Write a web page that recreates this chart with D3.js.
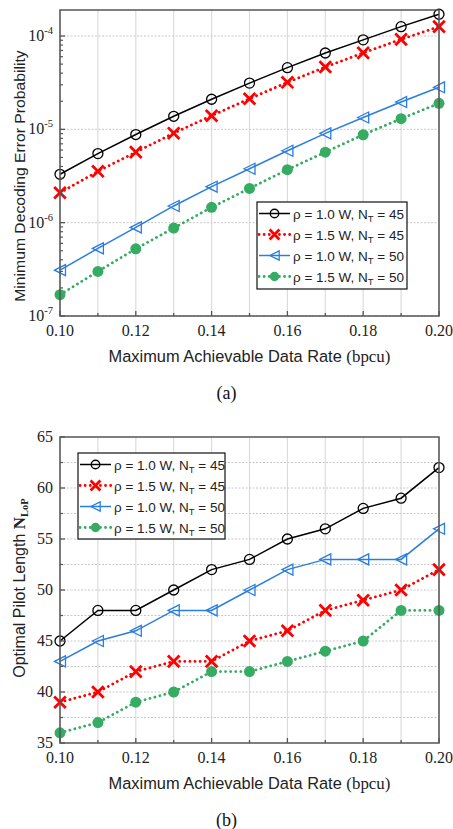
<!DOCTYPE html>
<html><head><meta charset="utf-8">
<script src="https://cdn.jsdelivr.net/npm/d3@7"></script>
<style>body{margin:0;background:#fff}svg{display:block}</style>
</head><body>
<svg id="c" width="453" height="829"></svg>
<script>
const rates = [0.10,0.11,0.12,0.13,0.14,0.15,0.16,0.17,0.18,0.19,0.20];
const xTicks = [0.10,0.12,0.14,0.16,0.18,0.20];
const seriesNames = ["ρ = 1.0 W, N_T = 45","ρ = 1.5 W, N_T = 45","ρ = 1.0 W, N_T = 50","ρ = 1.5 W, N_T = 50"];
// (a) minimum decoding error probability
const errA_r10_n45 = [3.3e-6,5.5e-6,8.8e-6,1.38e-5,2.1e-5,3.13e-5,4.58e-5,6.58e-5,9.1e-5,1.26e-4,1.71e-4];
const errA_r15_n45 = [2.09e-6,3.55e-6,5.7e-6,9.1e-6,1.4e-5,2.13e-5,3.19e-5,4.65e-5,6.6e-5,9.2e-5,1.26e-4];
const errA_r10_n50 = [3.1e-7,5.3e-7,8.9e-7,1.51e-6,2.43e-6,3.78e-6,5.9e-6,9.06e-6,1.34e-5,1.96e-5,2.82e-5];
const errA_r15_n50 = [1.69e-7,3.0e-7,5.25e-7,8.75e-7,1.46e-6,2.33e-6,3.7e-6,5.7e-6,8.75e-6,1.3e-5,1.9e-5];
const yTicksA = [-7,-6,-5,-4];
// (b) optimal pilot length
const pilot_r10_n45 = [45,48,48,50,52,53,55,56,58,59,62];
const pilot_r15_n45 = [39,40,42,43,43,45,46,48,49,50,52];
const pilot_r10_n50 = [43,45,46,48,48,50,52,53,53,53,56];
const pilot_r15_n50 = [36,37,39,40,42,42,43,44,45,48,48];
const yTicksB = [35,40,45,50,55,60,65];

const styles = [
  {color:"#000000", dash:null, width:1.5, marker:"circle"},
  {color:"#ff0000", dash:"0.1,5", width:2.8, marker:"x"},
  {color:"#2a7de1", dash:null, width:1.5, marker:"tri"},
  {color:"#36ab62", dash:"0.1,5", width:2.8, marker:"dot"}
];

const svg = d3.select("#c");
const SERIF = "'Liberation Serif','Times New Roman',serif";
const SANS = "'Liberation Sans',Arial,sans-serif";
const AX = "#555";

function fitWidth(g, textSel, target) {
  const w = textSel.node().getBBox().width;
  const k = w > 0 ? target / w : 1;
  textSel.attr("transform", `scale(${k},1)`);
}

function drawMarker(g, type, x, y, color, s) {
  s = s || 1;
  if (type === "circle") {
    g.append("circle").attr("cx",x).attr("cy",y).attr("r",5*s)
      .attr("fill","none").attr("stroke",color).attr("stroke-width",1.3);
  } else if (type === "x") {
    const d = 5.8*s;
    g.append("path").attr("d",`M${x-d},${y-d}L${x+d},${y+d}M${x-d},${y+d}L${x+d},${y-d}`)
      .attr("stroke",color).attr("stroke-width",2.8).attr("fill","none");
  } else if (type === "tri") {
    const w = 5.5*s;
    g.append("path").attr("d",`M${x-w},${y}L${x+w},${y-w}L${x+w},${y+w}Z`)
      .attr("fill","none").attr("stroke",color).attr("stroke-width",1.3);
  } else {
    g.append("circle").attr("cx",x).attr("cy",y).attr("r",5.5*s).attr("fill",color);
  }
}

function legendText(t, x, y, name) {
  const m = name.match(/^(.*N)_T( = \d+)$/);
  const gg = t.append("g").attr("transform",`translate(${x},${y})`);
  const txt = gg.append("text").attr("x",0).attr("y",0).attr("font-family",SANS)
    .attr("font-size",13.5).attr("fill","#222");
  txt.append("tspan").text(m[1]);
  txt.append("tspan").attr("font-size",9.5).attr("dy",3).text("T");
  txt.append("tspan").attr("dy",-3).text(m[2]);
  fitWidth(gg, txt, 111);
}

function panel(opts) {
  const {top,bottom,left,right,y,data,yGridVals,yMajor,yMinorTicks,yLabelFn,legend,xTitleY,capY,cap} = opts;
  const x = d3.scaleLinear().domain([0.10,0.20]).range([left,right]);
  const g = svg.append("g");
  g.selectAll(null).data(rates).enter().append("line")
    .attr("x1",d=>x(d)).attr("x2",d=>x(d)).attr("y1",top).attr("y2",bottom)
    .attr("stroke","#dcdcdc").attr("stroke-width",1.2);
  g.selectAll(null).data(yGridVals).enter().append("line")
    .attr("x1",left).attr("x2",right).attr("y1",d=>y(d)).attr("y2",d=>y(d))
    .attr("stroke","#c8c8c8").attr("stroke-width",1).attr("stroke-dasharray","2,1.5");
  data.forEach((vals,i)=>{
    const st = styles[i];
    const line = d3.line().x((d,j)=>x(rates[j])).y(d=>y(d));
    const p = g.append("path").attr("d",line(vals)).attr("fill","none")
      .attr("stroke",st.color).attr("stroke-width",st.width);
    if (st.dash) p.attr("stroke-dasharray",st.dash).attr("stroke-linecap","round");
    vals.forEach((v,j)=>drawMarker(g, st.marker, x(rates[j]), y(v), st.color, 1));
  });
  g.append("rect").attr("x",left).attr("y",top).attr("width",right-left).attr("height",bottom-top)
    .attr("fill","none").attr("stroke",AX).attr("stroke-width",1.5);
  g.selectAll(null).data(rates).enter().append("line")
    .attr("x1",d=>x(d)).attr("x2",d=>x(d)).attr("y1",bottom).attr("y2",(d,i)=>bottom-(i%2===0?5:3))
    .attr("stroke",AX).attr("stroke-width",1.3);
  g.selectAll(null).data(xTicks).enter().append("text")
    .attr("x",d=>x(d)).attr("y",bottom+20).attr("text-anchor","middle")
    .attr("font-family",SERIF).attr("font-size",16).attr("fill","#222")
    .text(d=>d3.format(".2f")(d));
  g.selectAll(null).data(yMajor).enter().append("line")
    .attr("x1",left).attr("x2",left+5).attr("y1",d=>y(d)).attr("y2",d=>y(d))
    .attr("stroke",AX).attr("stroke-width",1.3);
  g.selectAll(null).data(yMinorTicks).enter().append("line")
    .attr("x1",left).attr("x2",left+3).attr("y1",d=>y(d)).attr("y2",d=>y(d))
    .attr("stroke",AX).attr("stroke-width",1.2);
  yMajor.forEach(v=>yLabelFn(g, left-7, y(v), v));
  const xg = g.append("g").attr("transform",`translate(${(left+right)/2},${xTitleY})`);
  const xt = xg.append("text").attr("x",0).attr("y",0).attr("text-anchor","middle")
    .attr("font-family",SANS).attr("font-size",16.5).attr("fill","#222");
  xt.append("tspan").text("Maximum Achievable Data Rate ");
  xt.append("tspan").attr("font-family",SERIF).attr("font-size",17).text("(bpcu)");
  fitWidth(xg, xt, 282);
  g.append("text").attr("x",226.5).attr("y",capY).attr("text-anchor","middle")
    .attr("font-family",SERIF).attr("font-size",18).attr("fill","#111").text(cap);
  const L = legend;
  const lg = g.append("g");
  lg.append("rect").attr("x",L.x).attr("y",L.y).attr("width",L.w).attr("height",L.h)
    .attr("fill","#fff").attr("stroke","#111").attr("stroke-width",1.2);
  seriesNames.forEach((nm,i)=>{
    const st = styles[i];
    const yy = L.y + 11.5 + i*21;
    const l = lg.append("line").attr("x1",L.x+2).attr("x2",L.x+33).attr("y1",yy).attr("y2",yy)
      .attr("stroke",st.color).attr("stroke-width",st.width);
    if (st.dash) l.attr("stroke-dasharray",st.dash).attr("stroke-linecap","round");
    drawMarker(lg, st.marker, L.x+17.5, yy, st.color, 0.85);
    legendText(lg, L.x+36, yy+5, nm);
  });
  return g;
}

// Panel (a)
const yA = d3.scaleLog().domain([1e-7,1.9e-4]).range([316,10]);
const minorA = [];
[-7,-6,-5,-4].forEach(e=>{for(let k=2;k<=9;k++){const v=k*Math.pow(10,e); if(v<1.9e-4) minorA.push(v);}});
panel({
  top:10,bottom:316,left:60,right:439,y:yA,
  data:[errA_r10_n45,errA_r15_n45,errA_r10_n50,errA_r15_n50],
  yGridVals:yTicksA.map(e=>Math.pow(10,e)),
  yMajor:yTicksA.map(e=>Math.pow(10,e)),
  yMinorTicks:minorA,
  yLabelFn:(g,xx,yy,v)=>{
    const t = g.append("text").attr("x",xx).attr("y",yy+5).attr("text-anchor","end")
      .attr("font-family",SERIF).attr("font-size",16).attr("fill","#222");
    t.append("tspan").text("10");
    t.append("tspan").attr("font-size",10.5).attr("dy",-7).text(String(Math.round(Math.log10(v))));
  },
  legend:{x:257,y:202,w:150,h:87},
  xTitleY:362, capY:399, cap:"(a)"
});
const ya = svg.append("g").attr("transform",`translate(25,176) rotate(-90)`);
const yat = ya.append("text").attr("x",0).attr("y",0).attr("text-anchor","middle")
  .attr("font-family",SANS).attr("font-size",15).attr("fill","#222")
  .text("Minimum Decoding Error Probability");
fitWidth(ya, yat, 252);

// Panel (b)
const yB = d3.scaleLinear().domain([35,65]).range([743,437]);
const gridB = d3.range(35,65.01,2.5);
panel({
  top:437,bottom:743,left:60,right:439,y:yB,
  data:[pilot_r10_n45,pilot_r15_n45,pilot_r10_n50,pilot_r15_n50],
  yGridVals:gridB.filter(v=>v>35&&v<65),
  yMajor:yTicksB,
  yMinorTicks:gridB.filter(v=>v%5!==0),
  yLabelFn:(g,xx,yy,v)=>{
    g.append("text").attr("x",xx).attr("y",yy+5).attr("text-anchor","end")
      .attr("font-family",SERIF).attr("font-size",16).attr("fill","#222").text(v);
  },
  legend:{x:78,y:453,w:147,h:86},
  xTitleY:789, capY:826, cap:"(b)"
});
const yl = svg.append("text").attr("transform",`translate(25,588) rotate(-90)`).attr("text-anchor","middle")
  .attr("font-family",SANS).attr("font-size",16).attr("fill","#222");
yl.append("tspan").text("Optimal Pilot Length ");
yl.append("tspan").attr("font-family",SERIF).attr("font-weight","bold").attr("font-size",17).text("N");
yl.append("tspan").attr("font-family",SERIF).attr("font-weight","bold").attr("font-size",10.5).attr("dy",3).text("LoP");
</script>
</body></html>
